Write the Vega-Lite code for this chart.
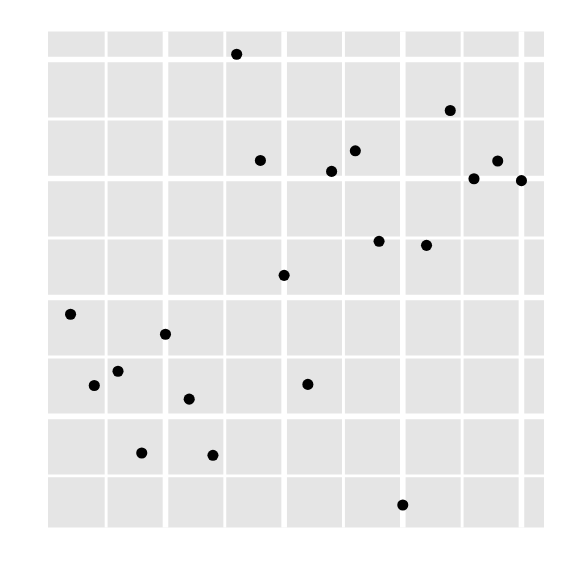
{
  "$schema": "https://vega.github.io/schema/vega-lite/v6.json",
  "width": 496,
  "height": 496,
  "autosize": {"type": "none"},
  "padding": {"left": 48, "top": 31.5, "right": 32, "bottom": 48.5},
  "background": "white",
  "config": {
    "view": {"fill": "#E5E5E5", "stroke": null}
  },
  "datasets": {
    "points": [
      {"x": 1, "y": 0.859},
      {"x": 2, "y": 0.260},
      {"x": 3, "y": 0.380},
      {"x": 4, "y": -0.308},
      {"x": 5, "y": 0.691},
      {"x": 6, "y": 0.145},
      {"x": 7, "y": -0.327},
      {"x": 8, "y": 3.045},
      {"x": 9, "y": 2.152},
      {"x": 10, "y": 1.186},
      {"x": 11, "y": 0.269},
      {"x": 12, "y": 2.060},
      {"x": 13, "y": 2.233},
      {"x": 14, "y": 1.472},
      {"x": 15, "y": -0.745},
      {"x": 16, "y": 1.438},
      {"x": 17, "y": 2.572},
      {"x": 18, "y": 1.998},
      {"x": 19, "y": 2.147},
      {"x": 20, "y": 1.982}
    ],
    "xgrid": [
      {"gx": 2.5, "kind": "minor"},
      {"gx": 5, "kind": "major"},
      {"gx": 7.5, "kind": "minor"},
      {"gx": 10, "kind": "major"},
      {"gx": 12.5, "kind": "minor"},
      {"gx": 15, "kind": "major"},
      {"gx": 17.5, "kind": "minor"},
      {"gx": 20, "kind": "major"}
    ],
    "ygrid": [
      {"gy": -0.5, "kind": "minor"},
      {"gy": 0, "kind": "major"},
      {"gy": 0.5, "kind": "minor"},
      {"gy": 1, "kind": "major"},
      {"gy": 1.5, "kind": "minor"},
      {"gy": 2, "kind": "major"},
      {"gy": 2.5, "kind": "minor"},
      {"gy": 3, "kind": "major"}
    ]
  },
  "layer": [
    {
      "data": {"name": "xgrid"},
      "mark": {"type": "rule", "color": "white"},
      "encoding": {
        "x": {"field": "gx", "type": "quantitative", "scale": {"domain": [0.05, 20.95], "nice": false, "zero": false}, "axis": null},
        "strokeWidth": {"field": "kind", "type": "nominal", "scale": {"domain": ["minor", "major"], "range": [2.9, 5.6]}, "legend": null}
      }
    },
    {
      "data": {"name": "ygrid"},
      "mark": {"type": "rule", "color": "white"},
      "encoding": {
        "y": {"field": "gy", "type": "quantitative", "scale": {"domain": [-0.934, 3.236], "nice": false, "zero": false}, "axis": null},
        "strokeWidth": {"field": "kind", "type": "nominal", "scale": {"domain": ["minor", "major"], "range": [2.9, 5.6]}, "legend": null}
      }
    },
    {
      "data": {"name": "points"},
      "mark": {"type": "circle", "color": "black", "opacity": 1, "size": 123},
      "encoding": {
        "x": {"field": "x", "type": "quantitative", "scale": {"domain": [0.05, 20.95], "nice": false, "zero": false}, "axis": null},
        "y": {"field": "y", "type": "quantitative", "scale": {"domain": [-0.934, 3.236], "nice": false, "zero": false}, "axis": null}
      }
    }
  ]
}
